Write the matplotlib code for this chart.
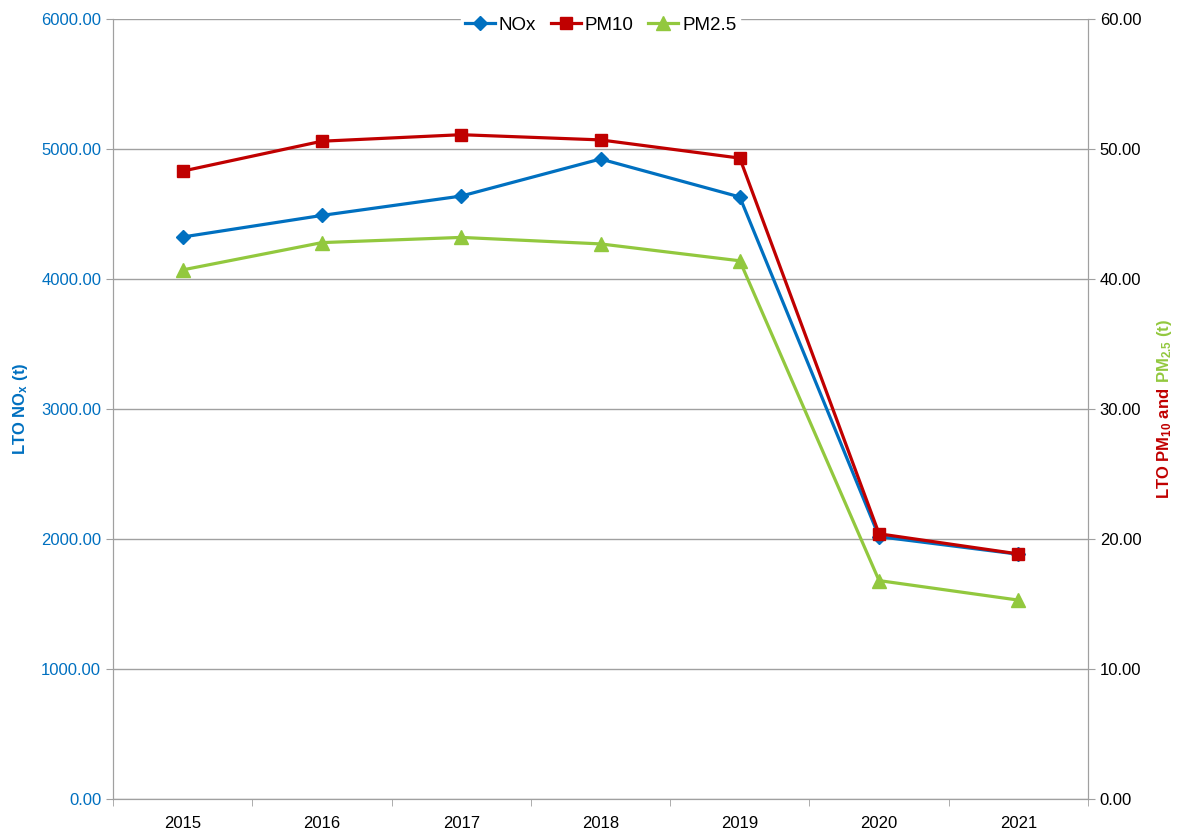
import matplotlib
matplotlib.use("Agg")
import matplotlib.pyplot as plt
import numpy as np

plt.rcParams['font.family'] = ['Liberation Sans', 'DejaVu Sans']
plt.rcParams['mathtext.fontset'] = 'custom'
plt.rcParams['mathtext.rm'] = 'Liberation Sans'
plt.rcParams['mathtext.bf'] = 'Liberation Sans:bold'
plt.rcParams['mathtext.default'] = 'bf'

years = ["2015", "2016", "2017", "2018", "2019", "2020", "2021"]
nox = [4323, 4489, 4638, 4923, 4631, 2018, 1883]
pm10 = [48.3, 50.6, 51.1, 50.7, 49.3, 20.4, 18.85]
pm25 = [40.7, 42.8, 43.2, 42.7, 41.4, 16.8, 15.3]

BLUE = "#0070C0"
RED = "#C00000"
GREEN = "#92C83E"
GRID = "#A0A0A0"


def main():
    fig = plt.figure(figsize=(11.77, 8.30), dpi=100)
    ax = fig.add_axes([113/1177, 31/830, 975/1177, 780/830])
    ax2 = ax.twinx()

    x = np.arange(len(years))
    l1, = ax.plot(x, nox, color=BLUE, lw=2.3, marker="D", ms=7, label="NOx")
    l3, = ax2.plot(x, pm25, color=GREEN, lw=2.3, marker="^", ms=9.5, label="PM2.5")
    l2, = ax2.plot(x, pm10, color=RED, lw=2.3, marker="s", ms=9, label="PM10")

    ax.set_xlim(-0.5, 6.5)
    ax.set_ylim(0, 6000)
    ax2.set_ylim(0, 60)
    ax.set_yticks(np.arange(0, 6001, 1000))
    ax2.set_yticks(np.arange(0, 61, 10))
    ax.set_yticklabels([f"{v:.2f}" for v in np.arange(0, 6001, 1000)])
    ax2.set_yticklabels([f"{v:.2f}" for v in np.arange(0, 61, 10)])
    ax.set_xticks(x)
    ax.set_xticklabels(years)
    ax.set_xticks(np.arange(-0.5, 7, 1), minor=True)
    ax.tick_params(axis="x", which="major", length=0, labelsize=12, pad=12)
    ax.tick_params(axis="x", which="minor", length=5, color=GRID)
    ax.tick_params(axis="y", length=5, color=GRID, labelsize=12, labelcolor=BLUE)
    ax2.tick_params(axis="y", length=5, color=GRID, labelsize=12, labelcolor="black")

    ax.grid(axis="y", color=GRID, lw=1)
    ax.set_axisbelow(True)
    for a in (ax, ax2):
        for s in a.spines.values():
            s.set_color(GRID)
        a.spines["top"].set_visible(False)

    leg = ax.legend([l1, l2, l3], ["NOx", "PM10", "PM2.5"], loc="upper center",
                    bbox_to_anchor=(0.5, 1.02), ncol=3, frameon=True, fontsize=13.5,
                    handlelength=1.6, columnspacing=0.8, handletextpad=0.2,
                    borderpad=0.2, fancybox=False)
    leg.get_frame().set_edgecolor("white")
    leg.get_frame().set_alpha(1)

    ax.set_ylabel(r"LTO NO$_\mathbf{x}$ (t)", color=BLUE, fontsize=12,
                  fontweight="bold", labelpad=8)

    # right label in two colours, stacked upward
    fig.canvas.draw()
    r = fig.canvas.get_renderer()
    t1 = fig.text(1165/1177, 0, r"LTO PM$_\mathbf{10}$ and", rotation=90,
                  color=RED, fontsize=12, fontweight="bold", ha="center", va="bottom")
    t2 = fig.text(1165/1177, 0, r"PM$_\mathbf{2.5}$ (t)", rotation=90,
                  color=GREEN, fontsize=12, fontweight="bold", ha="center", va="bottom")
    h1 = t1.get_window_extent(r).height
    h2 = t2.get_window_extent(r).height
    gap = 5
    yc = (31 + 390) / 830 * fig.bbox.height
    y0 = yc - (h1 + h2 + gap) / 2
    t1.set_position((1165/1177, y0 / fig.bbox.height))
    t2.set_position((1165/1177, (y0 + h1 + gap) / fig.bbox.height))

    fig.savefig("out.png", dpi=100)
    return


if __name__ == '__main__':
    main()
